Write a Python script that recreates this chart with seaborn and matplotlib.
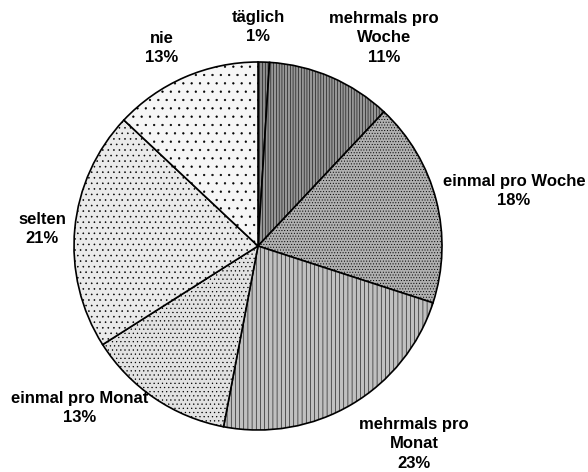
import matplotlib
matplotlib.use("Agg")
import matplotlib.pyplot as plt
import seaborn as sns

# ---------------------------
# DATA
# ---------------------------
categories = ["täglich", "mehrmals pro\nWoche", "einmal pro Woche", "mehrmals pro\nMonat",
              "einmal pro Monat", "selten", "nie"]
shares = [1, 11, 18, 23, 13, 21, 13]

# stipple look per slice (face gray + dot hatch)
faces = ["#8c8c8c", "#969696", "#b0b0b0", "#c0c0c0", "#e2e2e2", "#eaeaea", "#f6f6f6"]
hatches = ["||||||", "||||||", "......", "||||", "....", "...", ".."]

# label anchor points in pixels (x, y from top)
label_pos = [(258, 27), (384, 38), (514, 191), (414, 444), (80, 408), (42, 229), (162, 48)]

# ---------------------------
# PLOT
# ---------------------------
sns.set_theme(style="white")
plt.rcParams["font.family"] = ["Liberation Sans", "DejaVu Sans"]
plt.rcParams["hatch.linewidth"] = 0.4
plt.rcParams["hatch.color"] = "#555555"

W, H = 588, 472
fig = plt.figure(figsize=(W / 100, H / 100), dpi=100)
ax = fig.add_axes([0, 0, 1, 1])

wedges, _ = ax.pie(
    shares,
    startangle=90,
    counterclock=False,
    center=(258, H - 246),
    radius=184,
    colors=faces,
    wedgeprops=dict(edgecolor="black", linewidth=1.2),
    frame=True,
)
for w, h in zip(wedges, hatches):
    w.set_hatch(h)
ax.set_xlim(0, W)
ax.set_ylim(0, H)
ax.set_aspect("equal")
ax.axis("off")

for cat, val, (x, y) in zip(categories, shares, label_pos):
    ax.text(x, H - y, f"{cat}\n{val}%", ha="center", va="center",
            fontsize=12, fontweight="bold", linespacing=1.4, color="black")

fig.savefig("out.png", dpi=100)
